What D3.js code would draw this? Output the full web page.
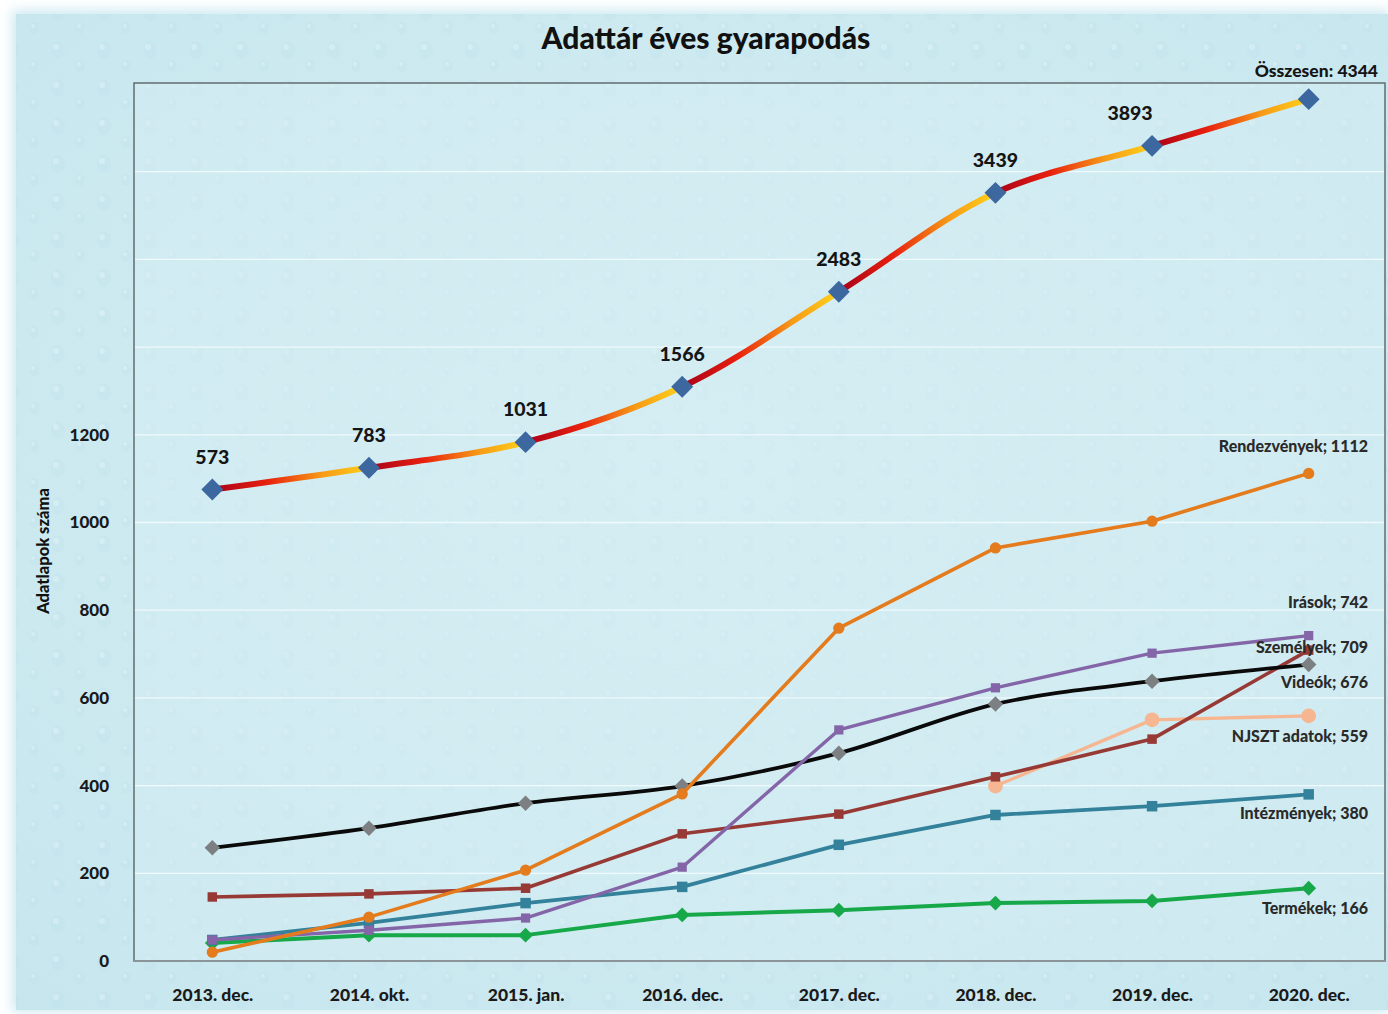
<!DOCTYPE html>
<html><head><meta charset="utf-8">
<script src="https://cdn.jsdelivr.net/npm/d3@7"></script>
<style>body{margin:0;background:#fff}svg{display:block}</style>
</head><body>
<div id="chart"></div>
<script>
const categories = ["2013. dec.","2014. okt.","2015. jan.","2016. dec.","2017. dec.","2018. dec.","2019. dec.","2020. dec."];
const total = [573,783,1031,1566,2483,3439,3893,4344];
const rendezvenyek = [20,100,207,381,759,942,1003,1112];
const irasok = [48,70,98,214,527,623,702,742];
const szemelyek = [146,153,166,290,335,420,506,709];
const videok = [258,303,360,399,474,586,638,676];
const njszt = [null,null,null,null,null,399,550,559];
const intezmenyek = [48,87,132,169,265,333,353,380];
const termekek = [41,59,59,105,116,132,137,166];
const yTicks = [0,200,400,600,800,1000,1200];
const seriesNames = ["Rendezvények","Írások","Személyek","Videók","NJSZT adatok","Intézmények","Termékek"];
const seriesLabels = ["Rendezvények; 1112","Irások; 742","Személyek; 709","Videók; 676","NJSZT adatok;  559","Intézmények; 380","Termékek; 166"];
const totalLabelLast = "Összesen: 4344";

const W=1388,H=1014;
const plot={l:134,t:83,r:1385,b:961};
const FONT="Lato, 'Open Sans', sans-serif";
const svg=d3.select("#chart").append("svg").attr("width",W).attr("height",H);
const defs=svg.append("defs");

// background
const bg=defs.append("radialGradient").attr("id","bgGrad").attr("cx","50%").attr("cy","45%").attr("r","75%");
bg.append("stop").attr("offset","0%").attr("stop-color","#d8eff4");
bg.append("stop").attr("offset","100%").attr("stop-color","#c6e6ee");
const pat=defs.append("pattern").attr("id","drops").attr("width",46).attr("height",38).attr("patternUnits","userSpaceOnUse");
pat.append("ellipse").attr("cx",12).attr("cy",12).attr("rx",7).attr("ry",9).attr("fill","#bfe0ea").attr("opacity",0.55);
pat.append("ellipse").attr("cx",10).attr("cy",9).attr("rx",3).attr("ry",3).attr("fill","#e8f7fa").attr("opacity",0.6);
pat.append("ellipse").attr("cx",34).attr("cy",28).attr("rx",5).attr("ry",6).attr("fill","#bfe0ea").attr("opacity",0.5);
pat.append("ellipse").attr("cx",33).attr("cy",26).attr("rx",2).attr("ry",2).attr("fill","#eaf8fb").attr("opacity",0.6);
const edge=defs.append("filter").attr("id","soft").attr("x","-5%").attr("y","-5%").attr("width","110%").attr("height","110%");
edge.append("feGaussianBlur").attr("stdDeviation",6);

svg.append("rect").attr("x",0).attr("y",0).attr("width",W).attr("height",H).attr("fill","#fff");
svg.append("rect").attr("x",12).attr("y",10).attr("width",W-10).attr("height",H-12).attr("fill","#cdeaf1").attr("filter","url(#soft)");
svg.append("rect").attr("x",16).attr("y",14).attr("width",W-16).attr("height",H-18).attr("fill","url(#bgGrad)");
svg.append("rect").attr("x",16).attr("y",14).attr("width",W-16).attr("height",H-18).attr("fill","url(#drops)").attr("opacity",0.6);

// plot area
svg.append("rect").attr("x",plot.l).attr("y",plot.t).attr("width",plot.r-plot.l).attr("height",plot.b-plot.t)
  .attr("fill","#d3edf3").attr("fill-opacity",0.55);

const x=d3.scalePoint().domain(categories).range([plot.l,plot.r+2]).padding(0.5);
const y=d3.scaleLinear().domain([0,2000]).range([plot.b,plot.t+1]);
const y2=d3.scaleLinear().domain([-4000,4500]).range([plot.b+2,plot.t]);

// gridlines
svg.append("g").selectAll("line").data(d3.range(200,2000,200)).join("line")
  .attr("x1",plot.l).attr("x2",plot.r).attr("y1",d=>y(d)).attr("y2",d=>y(d))
  .attr("stroke","#f4fbfd").attr("stroke-width",1.3).attr("opacity",0.9);

// y axis
const yAxis=svg.append("g").attr("transform",`translate(${plot.l-22},0)`)
  .call(d3.axisLeft(y).tickValues(yTicks).tickSize(0).tickFormat(d3.format("d")));
yAxis.select(".domain").remove();
yAxis.selectAll("text").attr("font-family",FONT).attr("font-weight","900").attr("font-size",17).attr("fill","#1a1a1a");

// x axis
const xAxis=svg.append("g").attr("transform",`translate(0,${plot.b})`)
  .call(d3.axisBottom(x).tickSize(0).tickPadding(28));
xAxis.select(".domain").remove();
xAxis.selectAll("text").attr("font-family",FONT).attr("font-weight","900").attr("font-size",17.5).attr("fill","#1a1a1a");

// plot border
svg.append("rect").attr("x",plot.l).attr("y",plot.t).attr("width",plot.r-plot.l).attr("height",plot.b-plot.t)
  .attr("fill","none").attr("stroke","#5a6468").attr("stroke-width",1.4);
svg.append("line").attr("x1",plot.l).attr("x2",plot.r).attr("y1",plot.b).attr("y2",plot.b).attr("stroke","#8a9499").attr("stroke-width",2);

// title
svg.append("text").attr("x",706).attr("y",49).attr("text-anchor","middle")
  .attr("font-family",FONT).attr("font-weight","900").attr("font-size",30).attr("fill","#111")
  .text("Adattár éves gyarapodás");
// y title
svg.append("text").attr("transform","translate(49,551) rotate(-90)").attr("text-anchor","middle")
  .attr("font-family",FONT).attr("font-weight","900").attr("font-size",16.5).attr("fill","#111")
  .text("Adatlapok száma");

const seriesData=[rendezvenyek,irasok,szemelyek,videok,njszt,intezmenyek,termekek];
const seriesColor=["#e47b1c","#8466a8","#973a36","#0a0a0a","#f6b692","#33819a","#17a84a"];
const markerColor=["#e47b1c","#8466a8","#973a36","#7d8083","#f6b692","#33819a","#17a84a"];
const markerType=["circle","square","square","diamond","circle","square","diamond"];
const markerSize=[100,85,90,120,170,110,110];
const seriesWidth=[3.6,3.4,3.6,3.8,3.4,3.8,4];
const labelY=[452,608,653,688,742,819,914];

const drawOrder=[6,5,4,2,3,1,0];
drawOrder.forEach(i=>{
  const pts=categories.map((c,j)=>({c,v:seriesData[i][j]})).filter(d=>d.v!=null);
  const line=d3.line().x(d=>x(d.c)).y(d=>y(d.v)).curve(i===3?d3.curveMonotoneX:d3.curveLinear);
  svg.append("path").datum(pts).attr("d",line).attr("fill","none")
    .attr("stroke",seriesColor[i]).attr("stroke-width",seriesWidth[i]).attr("stroke-linejoin","round");
  const sym=markerType[i]==="circle"?d3.symbolCircle:d3.symbolSquare;
  svg.append("g").selectAll("path").data(pts).join("path")
    .attr("transform",d=>`translate(${x(d.c)},${y(d.v)})${markerType[i]==="diamond"?" rotate(45)":""}`)
    .attr("d",d3.symbol().type(sym).size(markerSize[i]))
    .attr("fill",markerColor[i]);
});

// series labels
svg.append("g").selectAll("text").data(seriesLabels).join("text")
  .attr("x",1368).attr("y",(d,i)=>labelY[i]).attr("text-anchor","end")
  .attr("font-family",FONT).attr("font-weight","900").attr("font-size",16).attr("fill","#2a2a2a")
  .text(d=>d);

// total line with per-segment gradients
const tpts=categories.map((c,j)=>({c,v:total[j]}));
const tline=d3.line().x(d=>x(d.c)).y(d=>y2(d.v)).curve(d3.curveCatmullRom.alpha(0.5));
const tpath=tline(tpts);
for(let j=0;j<tpts.length-1;j++){
  const x0=x(tpts[j].c), x1=x(tpts[j+1].c);
  const g=defs.append("linearGradient").attr("id","tg"+j).attr("gradientUnits","userSpaceOnUse")
    .attr("x1",x0).attr("x2",x1).attr("y1",0).attr("y2",0);
  g.append("stop").attr("offset","0%").attr("stop-color","#a8001a");
  g.append("stop").attr("offset","35%").attr("stop-color","#e8200e");
  g.append("stop").attr("offset","70%").attr("stop-color","#f79a16");
  g.append("stop").attr("offset","100%").attr("stop-color","#ffd21a");
  defs.append("clipPath").attr("id","tc"+j).append("rect").attr("x",x0).attr("y",0).attr("width",x1-x0).attr("height",H);
  svg.append("path").attr("d",tpath).attr("fill","none").attr("stroke",`url(#tg${j})`).attr("stroke-width",6)
    .attr("clip-path",`url(#tc${j})`);
}
svg.append("g").selectAll("path").data(tpts).join("path")
  .attr("transform",d=>`translate(${x(d.c)},${y2(d.v)}) rotate(45)`)
  .attr("d",d3.symbol().type(d3.symbolSquare).size(240))
  .attr("fill","#3c679f");
// total labels
svg.append("g").selectAll("text").data(tpts).join("text")
  .attr("x",(d,j)=>j===tpts.length-1?1378:x(d.c)+(j===6?-22:0))
  .attr("y",(d,j)=>j===tpts.length-1?77:y2(d.v)-26)
  .attr("text-anchor",(d,j)=>j===tpts.length-1?"end":"middle")
  .attr("font-family",FONT).attr("font-weight","900")
  .attr("font-size",(d,j)=>j===tpts.length-1?17.5:19.5).attr("fill","#151515")
  .text((d,j)=>j===tpts.length-1?totalLabelLast:d.v);
</script>
</body></html>
